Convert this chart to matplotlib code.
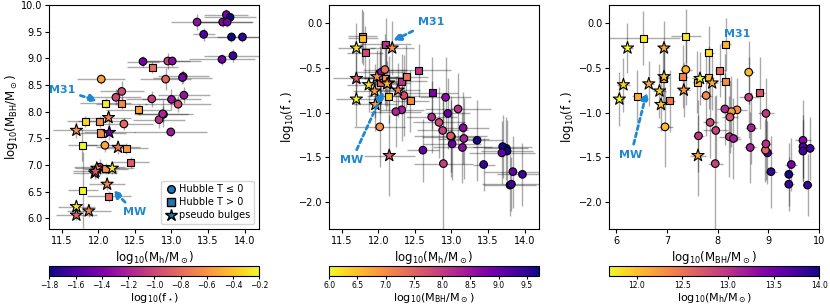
import numpy as np
import matplotlib as mpl
mpl.use('Agg')
import matplotlib.pyplot as plt
from matplotlib.lines import Line2D

# galaxy sample
# gtype: 0 = Hubble T<=0 (circle), 1 = Hubble T>0 (square), 2 = pseudo bulge (star)
mh = [13.75, 13.80, 13.35, 13.70, 13.76, 13.44, 13.82, 13.97, 13.84, 13.69,
      12.61, 12.95, 13.01, 12.04, 12.92, 13.16, 12.32, 12.24, 12.73, 13.00,
      13.17, 13.09, 12.89, 12.83, 12.35, 12.99, 12.09, 12.02, 13.15, 12.88,
      11.78, 11.79, 11.82, 12.10, 12.32, 12.55, 12.74, 12.02, 12.03, 12.38,
      12.44, 12.10, 12.14,
      11.70, 11.87, 11.70, 11.70, 12.14, 12.15, 12.27, 11.98, 12.19, 11.95,
      12.12, 11.96]
mh_err = [0.30, 0.35, 0.35, 0.40, 0.35, 0.15, 0.40, 0.35, 0.40, 0.45,
          0.22, 0.30, 0.40, 0.33, 0.35, 0.35, 0.30, 0.35, 0.35, 0.40,
          0.35, 0.45, 0.40, 0.35, 0.40, 0.50, 0.30, 0.35, 0.40, 0.35,
          0.20, 0.20, 0.25, 0.35, 0.35, 0.45, 0.35, 0.30, 0.35, 0.30,
          0.25, 0.30, 0.30,
          0.25, 0.30, 0.28, 0.32, 0.30, 0.35, 0.30, 0.30, 0.30, 0.30,
          0.25, 0.30]
mbh = [9.82, 9.77, 9.68, 9.68, 9.68, 9.45, 9.40, 9.40, 9.05, 8.98,
       8.94, 8.95, 8.95, 8.61, 8.61, 8.66, 8.38, 8.27, 8.24, 8.23,
       8.31, 8.14, 7.95, 7.85, 7.77, 7.62, 7.37, 6.96, 8.64, 7.96,
       7.37, 6.53, 7.82, 8.16, 8.15, 8.04, 8.83, 7.82, 7.60, 7.31,
       7.05, 6.93, 6.41,
       6.22, 6.14, 6.06, 7.65, 7.89, 7.61, 7.33, 6.94, 6.94, 6.85,
       6.64, 6.88]
mbh_err = [0.10, 0.08, 0.15, 0.10, 0.10, 0.12, 0.10, 0.10, 0.12, 0.10,
           0.10, 0.15, 0.10, 0.10, 0.20, 0.12, 0.20, 0.15, 0.15, 0.20,
           0.15, 0.15, 0.15, 0.15, 0.12, 0.10, 0.12, 0.15, 0.12, 0.25,
           0.30, 0.72, 0.10, 0.10, 0.10, 0.10, 0.10, 0.10, 0.10, 0.10,
           0.10, 0.10, 0.10,
           0.10, 0.12, 0.10, 0.15, 0.12, 0.15, 0.12, 0.10, 0.10, 0.12,
           0.10, 0.10]
fs = [-1.40, -1.81, -1.31, -1.38, -1.43, -1.58, -1.80, -1.69, -1.66, -1.45,
      -1.42, -1.01, -1.35, -0.55, -0.83, -1.17, -0.97, -0.99, -1.05, -1.27,
      -1.29, -0.96, -1.57, -1.11, -0.81, -1.26, -0.52, -1.16, -1.39, -1.20,
      -0.15, -0.17, -0.33, -0.24, -0.65, -0.53, -0.78, -0.61, -0.66, -0.60,
      -0.87, -0.62, -0.82,
      -0.28, -0.69, -0.85, -0.62, -0.67, -1.48, -0.75, -0.60, -0.28, -0.76,
      -0.68, -0.91]
fs_err = [0.35, 0.35, 0.45, 0.35, 0.35, 0.30, 0.30, 0.35, 0.40, 0.35,
          0.35, 0.40, 0.40, 0.35, 0.45, 0.40, 0.35, 0.40, 0.40, 0.45,
          0.45, 0.40, 0.75, 0.40, 0.45, 0.40, 0.40, 0.45, 0.40, 0.40,
          0.30, 0.30, 0.30, 0.30, 0.30, 0.30, 0.40, 0.35, 0.35, 0.35,
          0.35, 0.35, 0.30,
          0.28, 0.30, 0.30, 0.30, 0.30, 0.45, 0.30, 0.30, 0.30, 0.30,
          0.25, 0.30]
gtype = [0]*30 + [1]*13 + [2]*12
i_m31 = 33
i_mw = 53

mh, mh_err = np.array(mh), np.array(mh_err)
mbh, mbh_err = np.array(mbh), np.array(mbh_err)
fs, fs_err = np.array(fs), np.array(fs_err)
gtype = np.array(gtype)

lab_mh  = r'$\mathrm{log_{10}(M_h/M_\odot)}$'
lab_mbh = r'$\mathrm{log_{10}(M_{BH}/M_\odot)}$'
lab_fs  = r'$\mathrm{log_{10}(f_\star)}$'
acol = '#1f88d0'

markers = [('o', 30), ('s', 26), ('*', 85)]

def draw_panel(ax, x, xe, y, ye, c, cmap, vmin, vmax):
    ax.errorbar(x, y, xerr=xe, yerr=ye, fmt='none', ecolor='k',
                elinewidth=1.0, alpha=0.33, zorder=1)
    for t, (mk, s) in enumerate(markers):
        sel = gtype == t
        sc = ax.scatter(x[sel], y[sel], c=c[sel], cmap=cmap, vmin=vmin, vmax=vmax,
                        marker=mk, s=s, edgecolors='k', linewidths=0.8, zorder=3)
    return sc

def label(ax, txt, xy, xytext):
    props = dict(arrowstyle='-|>', color=acol, lw=2, ls=(0, (1.5, 1.2)),
                 shrinkA=2, shrinkB=6, mutation_scale=11)
    ax.annotate(txt, xy=xy, xytext=xytext, color=acol, fontsize=8,
                fontweight='bold', ha='center', va='center',
                arrowprops=props, zorder=5)

def colorbar(sc, cax, ticks, lab):
    cb = fig.colorbar(sc, cax=cax, orientation='horizontal')
    cb.set_ticks(ticks)
    cb.set_label(lab, fontsize=8, labelpad=0.5)
    cax.tick_params(labelsize=5.5, length=2, pad=1.5)

plt.close('all')
fig = plt.figure(figsize=(8.3, 3.06), dpi=100)
w, h = 0.253, 0.732
lefts = [0.0594, 0.3967, 0.734]
axs = [fig.add_axes([l, 0.2516, w, h]) for l in lefts]
caxs = [fig.add_axes([l, 0.098, w, 0.033]) for l in lefts]

# panel 1: Mh vs MBH, coloured by f*
ax = axs[0]
sc = draw_panel(ax, mh, mh_err, mbh, mbh_err, fs, 'plasma', -1.8, -0.2)
ax.set_xlim(11.33, 14.2)
ax.set_ylim(5.8, 10.0)
ax.set_xlabel(lab_mh, fontsize=8.5, labelpad=2)
ax.set_ylabel(lab_mbh, fontsize=8.5, labelpad=1)
colorbar(sc, caxs[0], np.arange(-1.8, -0.19, 0.2), lab_fs)
label(ax, 'M31', (mh[i_m31], mbh[i_m31]), (11.50, 8.41))
label(ax, 'MW', (mh[i_mw], mbh[i_mw]), (12.50, 6.12))
handles = [Line2D([], [], marker=mk, ls='none', markerfacecolor='C0',
                  markeredgecolor='k', markersize=ms)
           for mk, ms in [('o', 5.5), ('s', 5.5), ('*', 9)]]
ax.legend(handles, ['Hubble T ≤ 0', 'Hubble T > 0', 'pseudo bulges'],
          loc='lower right', fontsize=7, handletextpad=0.3,
          borderpad=0.4, labelspacing=0.3, handlelength=1.2)

# panel 2: Mh vs f*, coloured by MBH
ax = axs[1]
sc = draw_panel(ax, mh, mh_err, fs, fs_err, mbh, 'plasma_r', 6.0, 9.72)
ax.set_xlim(11.33, 14.2)
ax.set_ylim(-2.3, 0.2)
ax.set_xlabel(lab_mh, fontsize=8.5, labelpad=2)
ax.set_ylabel(lab_fs, fontsize=8.5, labelpad=2)
colorbar(sc, caxs[1], np.arange(6.0, 9.6, 0.5), lab_mbh)
label(ax, 'M31', (mh[i_m31], fs[i_m31]), (12.72, 0.01))
label(ax, 'MW', (mh[i_mw], fs[i_mw]), (11.64, -1.53))

# panel 3: MBH vs f*, coloured by Mh
ax = axs[2]
sc = draw_panel(ax, mbh, mbh_err, fs, fs_err, mh, 'plasma_r', 11.7, 14.0)
ax.set_xlim(5.86, 10.0)
ax.set_ylim(-2.3, 0.2)
ax.set_xlabel(lab_mbh, fontsize=8.5, labelpad=2)
ax.set_ylabel(lab_fs, fontsize=8.5, labelpad=2)
colorbar(sc, caxs[2], np.arange(12.0, 14.01, 0.5), lab_mh)
ax.text(8.38, -0.12, 'M31', color=acol, fontsize=8, fontweight='bold',
        ha='center', va='center', zorder=5)
label(ax, 'MW', (mbh[i_mw], fs[i_mw]), (6.29, -1.47))

for ax in axs:
    ax.tick_params(labelsize=7, length=3, pad=2)

plt.savefig('out.png', dpi=100, facecolor='w')
